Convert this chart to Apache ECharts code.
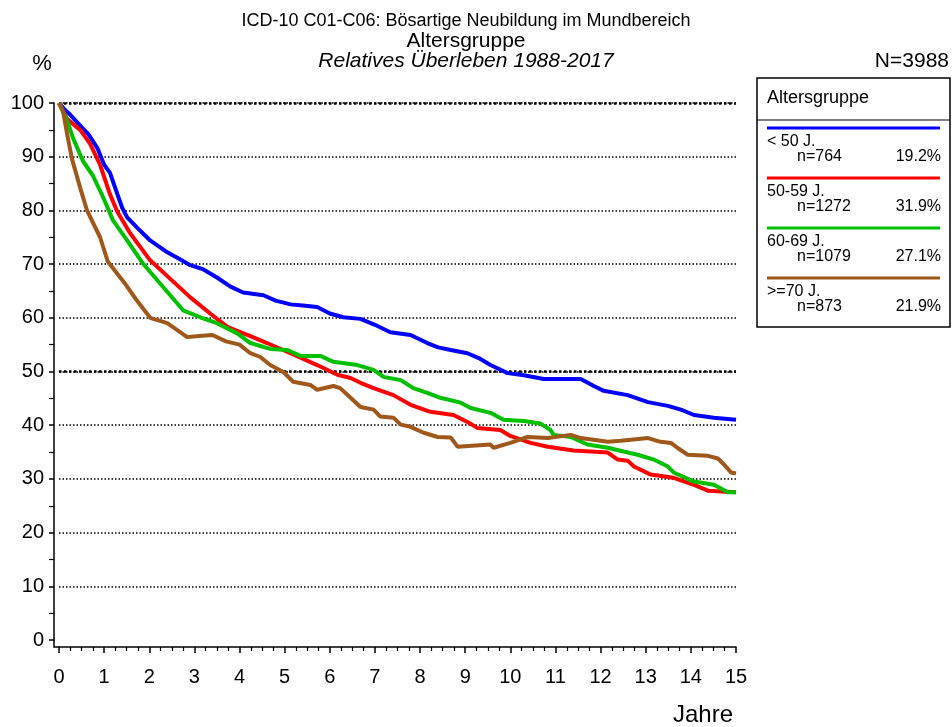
<!DOCTYPE html>
<html>
<head>
<meta charset="utf-8">
<script src="https://cdn.jsdelivr.net/npm/echarts@6/dist/echarts.min.js"></script>
<style>
  html, body { margin: 0; padding: 0; background: #fff; }
  #chart { width: 952px; height: 727px; }
</style>
</head>
<body>
<div id="chart"></div>
<script>
// Relatives Überleben nach Altersgruppe, [Jahre, %]
var gruppen = ['< 50 J.', '50-59 J.', '60-69 J.', '>=70 J.'];
var fallzahlen = ['n=764', 'n=1272', 'n=1079', 'n=873'];
var anteile = ['19.2%', '31.9%', '27.1%', '21.9%'];
var farben = ['#0000ff', '#ff0000', '#00c000', '#a0581a'];

var unter50 = [[0,100],[0.1,99],[0.25,97.8],[0.5,95.5],[0.65,94.2],[0.85,91.6],[1.0,88.5],[1.13,87],[1.29,83.1],[1.4,80.5],[1.51,78.7],[1.73,76.8],[2.02,74.4],[2.4,72.2],[2.7,70.8],[2.91,69.8],[3.2,69],[3.5,67.5],[3.8,65.8],[4.08,64.7],[4.53,64.2],[4.8,63.2],[5.13,62.5],[5.4,62.3],[5.72,62.0],[6.0,60.8],[6.3,60.1],[6.68,59.8],[7.0,58.7],[7.34,57.3],[7.79,56.8],[8.16,55.3],[8.4,54.5],[8.68,54.0],[9.05,53.4],[9.3,52.5],[9.56,51.2],[9.94,49.7],[10.3,49.3],[10.74,48.6],[11.56,48.6],[11.85,47.3],[12.07,46.4],[12.6,45.6],[13.05,44.3],[13.49,43.6],[13.78,42.9],[14.07,41.9],[14.51,41.4],[15,41.0]];
var j50bis59 = [[0,100],[0.18,97],[0.47,95],[0.69,92.4],[0.91,88.5],[1.13,83],[1.29,79.8],[1.58,75.7],[2.02,70.7],[2.46,67.3],[2.91,63.8],[3.35,60.8],[3.73,58.3],[4.24,56.6],[4.61,55.3],[5.13,53.4],[5.72,51.2],[6.17,49.4],[6.46,48.8],[6.68,47.9],[6.97,46.9],[7.41,45.6],[7.79,43.8],[8.23,42.5],[8.74,41.9],[9.05,40.6],[9.27,39.5],[9.78,39.1],[10.0,38.0],[10.45,36.7],[10.83,36.0],[11.4,35.3],[12.16,34.9],[12.38,33.6],[12.6,33.4],[12.74,32.3],[13.11,30.8],[13.62,30.2],[14.07,28.9],[14.38,27.8],[15,27.5]];
var j60bis69 = [[0,100],[0.18,96.7],[0.31,93.5],[0.53,89.2],[0.75,86.5],[0.98,82.4],[1.2,78.1],[1.51,74.4],[1.86,70.1],[2.24,66.4],[2.75,61.4],[3.13,60.1],[3.5,59.0],[3.95,57.1],[4.24,55.3],[4.68,54.2],[5.06,54.0],[5.35,52.9],[5.79,52.9],[6.08,51.8],[6.61,51.2],[6.97,50.3],[7.19,49.0],[7.57,48.4],[7.85,46.9],[8.16,46.0],[8.45,45.1],[8.9,44.2],[9.12,43.2],[9.56,42.3],[9.85,41.0],[10.3,40.8],[10.67,40.3],[10.89,39.1],[10.96,38.2],[11.34,37.8],[11.71,36.4],[12.16,35.8],[12.51,35.1],[12.82,34.5],[13.18,33.6],[13.49,32.3],[13.62,31.2],[14.07,29.5],[14.51,28.9],[14.82,27.5],[15,27.5]];
var ab70 = [[0,100],[0.09,98.5],[0.18,94.2],[0.29,89.5],[0.47,84.2],[0.62,80],[0.91,75],[1.08,70.5],[1.46,66.4],[1.7,63.5],[2.02,60],[2.4,59.0],[2.84,56.4],[3.1,56.6],[3.4,56.8],[3.7,55.6],[4.0,55.0],[4.24,53.4],[4.46,52.7],[4.68,51.2],[4.97,49.9],[5.19,48.1],[5.57,47.5],[5.72,46.6],[6.08,47.3],[6.23,46.9],[6.46,45.1],[6.68,43.4],[6.97,42.9],[7.12,41.6],[7.41,41.4],[7.57,40.1],[7.79,39.7],[8.08,38.6],[8.39,37.8],[8.68,37.7],[8.83,36.0],[9.56,36.4],[9.63,35.8],[10.0,36.7],[10.38,37.8],[10.83,37.6],[11.34,38.2],[11.56,37.6],[12.16,36.9],[12.45,37.1],[13.05,37.6],[13.33,36.9],[13.56,36.7],[13.7,35.8],[13.93,34.5],[14.38,34.3],[14.6,33.8],[14.73,32.7],[14.89,31.2],[15,31.0]];
var kurven = [unter50, j50bis59, j60bis69, ab70];

var font = '"Liberation Sans", Arial, sans-serif';
var myChart = echarts.init(document.getElementById('chart'));

// Legende als Kasten rechts
var legende = [
    { type: 'rect', shape: { x: 757, y: 78, width: 193, height: 249 }, style: { fill: '#fff', stroke: '#000', lineWidth: 1.5 } },
    { type: 'line', shape: { x1: 757, y1: 120, x2: 950, y2: 120 }, style: { stroke: '#000', lineWidth: 1.2 } },
    { type: 'text', x: 767, y: 98, style: { text: 'Altersgruppe', font: '18px ' + font, fill: '#000', verticalAlign: 'middle' } }
];
gruppen.forEach(function (g, i) {
    var y0 = 128 + i * 50;
    legende.push({ type: 'line', shape: { x1: 767, y1: y0, x2: 940, y2: y0 }, style: { stroke: farben[i], lineWidth: 3 } });
    legende.push({ type: 'text', x: 767, y: y0 + 14, style: { text: g, font: '16px ' + font, fill: '#000', verticalAlign: 'middle' } });
    legende.push({ type: 'text', x: 797, y: y0 + 29, style: { text: fallzahlen[i], font: '16px ' + font, fill: '#000', verticalAlign: 'middle' } });
    legende.push({ type: 'text', x: 941, y: y0 + 29, style: { text: anteile[i], font: '16px ' + font, fill: '#000', verticalAlign: 'middle', align: 'right' } });
});

var texte = [
    { type: 'text', x: 466, y: 21, style: { text: 'ICD-10 C01-C06: Bösartige Neubildung im Mundbereich', font: '18px ' + font, fill: '#000', align: 'center', verticalAlign: 'middle' } },
    { type: 'text', x: 466, y: 41, style: { text: 'Altersgruppe', font: '21px ' + font, fill: '#000', align: 'center', verticalAlign: 'middle' } },
    { type: 'text', x: 466, y: 61, style: { text: 'Relatives Überleben 1988-2017', font: 'italic 21px ' + font, fill: '#000', align: 'center', verticalAlign: 'middle' } },
    { type: 'text', x: 42, y: 64, style: { text: '%', font: '22px ' + font, fill: '#000', align: 'center', verticalAlign: 'middle' } },
    { type: 'text', x: 949, y: 61, style: { text: 'N=3988', font: '21px ' + font, fill: '#000', align: 'right', verticalAlign: 'middle' } },
    { type: 'text', x: 703, y: 715, style: { text: 'Jahre', font: '24px ' + font, fill: '#000', align: 'center', verticalAlign: 'middle' } }
];

// keine Gitterlinie bei 0
var gitterFarben = ['rgba(0,0,0,0)', '#000', '#000', '#000', '#000', '#000', '#000', '#000', '#000', '#000', '#000'];

var option = {
    animation: false,
    backgroundColor: '#fff',
    textStyle: { fontFamily: font },
    grid: { left: 59, right: 216, top: 103, bottom: 87 },
    xAxis: {
        type: 'value', min: 0, max: 15, interval: 1, offset: 7,
        axisLine: { onZero: false, lineStyle: { color: '#000', width: 1.5 } },
        axisTick: { length: 6, lineStyle: { color: '#000', width: 1.5 } },
        minorTick: { show: true, splitNumber: 4, length: 4, lineStyle: { color: '#000', width: 1.2 } },
        axisLabel: { color: '#000', fontSize: 20, margin: 20 },
        splitLine: { show: false }
    },
    yAxis: {
        type: 'value', min: 0, max: 100, interval: 10, offset: 5,
        axisLine: { show: true, onZero: false, lineStyle: { color: '#000', width: 1.5 } },
        axisTick: { show: true, length: 5, lineStyle: { color: '#000', width: 1.5 } },
        minorTick: { show: true, splitNumber: 2, length: 5, lineStyle: { color: '#000', width: 1.2 } },
        axisLabel: { color: '#000', fontSize: 20, margin: 10 },
        splitLine: { show: true, lineStyle: { color: gitterFarben, width: 1.5, type: [1.5, 2] } }
    },
    graphic: legende.concat(texte),
    series: kurven.map(function (d, i) {
        var s = {
            name: gruppen[i], type: 'line', data: d, showSymbol: false, symbol: 'none',
            lineStyle: { color: farben[i], width: 4 }, z: 3 + i
        };
        if (i === 0) {
            s.markLine = {
                silent: true, symbol: 'none', label: { show: false },
                lineStyle: { color: '#000', width: 2.5, type: [2.5, 2.5] },
                data: [{ yAxis: 50 }, { yAxis: 100 }], z: 1
            };
        }
        return s;
    })
};

myChart.setOption(option);

// Ecke zwischen versetzten Achsen schließen
var p0 = myChart.convertToPixel({ gridIndex: 0 }, [0, 0]);
myChart.setOption({
    graphic: option.graphic.concat([
        { type: 'polyline', shape: { points: [[p0[0] - 5, p0[1]], [p0[0] - 5, p0[1] + 7], [p0[0], p0[1] + 7]] }, style: { stroke: '#000', lineWidth: 1.5, fill: null } }
    ])
});
</script>
</body>
</html>
